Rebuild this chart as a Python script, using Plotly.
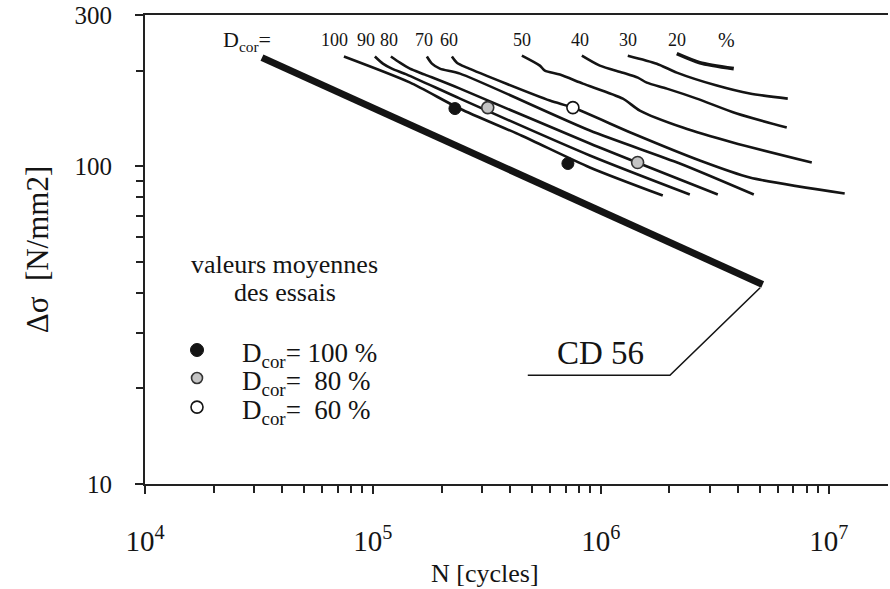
import math
import plotly.graph_objects as go

FONT = "Liberation Serif, Times New Roman, serif"
INK = "#141414"

# ---- D_cor curves (N [cycles], delta sigma [N/mm2]) ----
d100_N = [7.46e4, 1.45e5, 2.41e5, 4.5e5, 8.95e5, 1.87e6]
d100_S = [222, 184, 152, 125, 99.3, 81.0]
d90_N = [1.02e5, 1.106e5, 1.211e5, 1.41e5, 2.41e5, 8.95e5, 2.457e6]
d90_S = [222, 210.8, 203.3, 194.7, 163.6, 108.3, 81.6]
d80_N = [1.199e5, 1.313e5, 1.453e5, 1.691e5, 2.41e5, 8.95e5, 3.26e6]
d80_S = [222, 212.3, 203.3, 194.7, 175.9, 118.1, 81.6]
d70_N = [1.725e5, 1.815e5, 1.967e5, 2.41e5, 8.95e5, 2.221e6, 4.69e6]
d70_S = [222, 210.8, 203.3, 196.1, 129.8, 102.2, 81.6]
d60_N = [2.221e5, 2.336e5, 2.585e5, 5.975e5, 7.537e5, 1.382e6, 2.718e6, 4.503e6, 1.175e7]
d60_S = [222, 212.3, 204.8, 161.3, 153.3, 127.0, 104.4, 92.3, 82.2]
d50_N = [4.503e5, 5.401e5, 5.681e5, 6.611e5, 8.338e5, 1.249e6, 1.483e6, 2.289e6, 3.792e6, 8.424e6]
d50_S = [223.4, 207.8, 200.4, 194.7, 182.4, 163.6, 150.0, 132.6, 119.0, 102.9]
d40_N = [8.255e5, 9.9e5, 1.249e6, 1.453e6, 1.591e6, 1.948e6, 2.637e6, 3.949e6, 6.543e6]
d40_S = [223.4, 207.8, 197.5, 190.5, 183.7, 175.9, 163.6, 146.8, 132.6]
d30_N = [1.313e6, 1.76e6, 2.154e6, 3.227e6, 4.503e6, 6.61e6]
d30_S = [223.4, 210.8, 197.5, 179.8, 169.7, 163.6]
d20_N = [2.154e6, 2.718e6, 3.831e6]
d20_S = [226.7, 212.3, 203.3]

# ---- detail category CD 56 ----
cd56_N = [3.26e4, 5.13e6]
cd56_S = [220.2, 42.5]
cd56_leader_N = [5.0e6, 2.01e6, 4.78e5]
cd56_leader_S = [41.5, 22.0, 22.0]
cd56_label_N = 1.0e6
cd56_label_S = 25.8

# ---- test means ----
p100_N = [2.29e5, 7.17e5]
p100_S = [152.2, 102.2]
p80_N = [3.19e5, 1.45e6]
p80_S = [153.3, 102.9]
p60_N = [7.54e5]
p60_S = [153.3]

# ---- curve labels ----
curve_labels = ["100", "90", "80", "70", "60", "50", "40", "30", "20", "%"]
curve_label_N = [6.8e4, 9.3e4, 1.18e5, 1.67e5, 2.15e5, 4.5e5, 8.1e5, 1.31e6, 2.15e6, 3.57e6]

# ---- legend texts ----
legend_title = ["valeurs moyennes", "des essais"]
legend_items = ["D<sub>cor</sub>= 100 %", "D<sub>cor</sub>=  80 %", "D<sub>cor</sub>=  60 %"]

# ---- axes ----
x_major = [1e4, 1e5, 1e6, 1e7]
x_major_text = ["10<sup>4</sup>", "10<sup>5</sup>", "10<sup>6</sup>", "10<sup>7</sup>"]
x_minor = [m * 10 ** e for e in (4, 5, 6) for m in range(2, 10)]
y_major = [10, 100, 300]
y_major_text = ["10", "100", "300"]
y_minor = [20, 30, 40, 50, 60, 70, 80, 90, 200]

fig = go.Figure()

curves = [(d100_N, d100_S), (d90_N, d90_S), (d80_N, d80_S), (d70_N, d70_S),
          (d60_N, d60_S), (d50_N, d50_S), (d40_N, d40_S), (d30_N, d30_S)]
for cn, cs in curves:
    fig.add_trace(go.Scatter(x=cn, y=cs, mode="lines", showlegend=False,
                             line=dict(color=INK, width=2.6, shape="spline", smoothing=0.7),
                             hoverinfo="skip"))
fig.add_trace(go.Scatter(x=d20_N, y=d20_S, mode="lines", showlegend=False,
                         line=dict(color=INK, width=3.6, shape="spline", smoothing=0.7)))

fig.add_trace(go.Scatter(x=cd56_N, y=cd56_S, mode="lines", showlegend=False,
                         line=dict(color=INK, width=7)))
fig.add_trace(go.Scatter(x=cd56_leader_N, y=cd56_leader_S, mode="lines", showlegend=False,
                         line=dict(color=INK, width=1.6)))

styles = [dict(color=INK, line=dict(color=INK, width=1)),
          dict(color="#c4c4c4", line=dict(color="#333333", width=1.6)),
          dict(color="white", line=dict(color=INK, width=1.6))]
for (pn, ps), st, nm in zip([(p100_N, p100_S), (p80_N, p80_S), (p60_N, p60_S)], styles, legend_items):
    fig.add_trace(go.Scatter(x=pn, y=ps, mode="markers", name=nm, showlegend=False,
                             marker=dict(symbol="circle", size=12, **st)))

ann = []
for t, n in zip(curve_labels, curve_label_N):
    ann.append(dict(x=math.log10(n), y=0.9467, xref="x", yref="paper", text=t,
                    yanchor="middle", xanchor="center", showarrow=False,
                    font=dict(family=FONT, size=20 if t == "%" else 18, color=INK)))
ann.append(dict(x=math.log10(2.8e4), y=0.944, xref="x", yref="paper",
                text="D<sub>cor</sub>=", showarrow=False, yanchor="middle", xanchor="center",
                font=dict(family=FONT, size=22, color=INK)))
ann.append(dict(x=math.log10(cd56_label_N), y=math.log10(cd56_label_S), xref="x", yref="y",
                text="CD 56", showarrow=False, yanchor="middle", xanchor="center",
                font=dict(family=FONT, size=33, color=INK)))

# axis title for N placed where the reference shows it
ann.append(dict(x=0.4576, y=-0.19, xref="paper", yref="paper", text="N [cycles]",
                showarrow=False, xanchor="center", yanchor="middle",
                font=dict(family=FONT, size=26, color=INK)))

# manual legend (title lines, glyphs, entries)
for t, yy in zip(legend_title, [0.467, 0.409]):
    ann.append(dict(x=0.1884, y=yy, xref="paper", yref="paper", text=t, showarrow=False,
                    xanchor="center", yanchor="middle",
                    font=dict(family=FONT, size=26, color=INK)))
shapes = []
glyph_sizes = [13, 11, 12]
for t, yy, st, gs in zip(legend_items, [0.2857, 0.226, 0.164], styles, glyph_sizes):
    ann.append(dict(x=0.1279, y=yy - 0.010, xref="paper", yref="paper", text=t, showarrow=False,
                    xanchor="left", yanchor="middle",
                    font=dict(family=FONT, size=27, color=INK)))
    shapes.append(dict(type="circle", xref="paper", yref="paper", xsizemode="pixel",
                       ysizemode="pixel", xanchor=0.070, yanchor=yy,
                       x0=-gs / 2, x1=gs / 2, y0=-gs / 2, y1=gs / 2,
                       fillcolor=st["color"], line=dict(color=st["line"]["color"], width=st["line"]["width"])))

fig.update_layout(
    width=890, height=589,
    margin=dict(l=145, r=2, t=15, b=105),
    paper_bgcolor="white", plot_bgcolor="white",
    font=dict(family=FONT, color=INK),
    annotations=ann, shapes=shapes,
    showlegend=False,
    xaxis=dict(type="log", range=[4, 7.26], showgrid=False, zeroline=False,
               showline=True, linecolor="#222", linewidth=2, mirror=True,
               ticks="outside", ticklen=8, tickwidth=1.5, tickcolor="#222",
               tickvals=x_major, ticktext=x_major_text,
               tickfont=dict(family=FONT, size=29, color=INK), ticklabelstandoff=22,
               minor=dict(ticks="outside", ticklen=7, tickwidth=1.5, tickcolor="#222",
                          tickvals=x_minor, showgrid=False)),
    yaxis=dict(type="log", range=[1, math.log10(300)], showgrid=False, zeroline=False,
               showline=True, linecolor="#222", linewidth=2,
               ticks="outside", ticklen=8, tickwidth=1.5, tickcolor="#222",
               tickvals=y_major, ticktext=y_major_text,
               tickfont=dict(family=FONT, size=25, color=INK), ticklabelstandoff=18,
               minor=dict(ticks="outside", ticklen=7, tickwidth=1.5, tickcolor="#222",
                          tickvals=y_minor, showgrid=False),
               title=dict(text="Δσ\u00a0\u00a0[N/mm2]", font=dict(family=FONT, size=31, color=INK),
                          standoff=17)),
)

fig.write_html("out.html")
